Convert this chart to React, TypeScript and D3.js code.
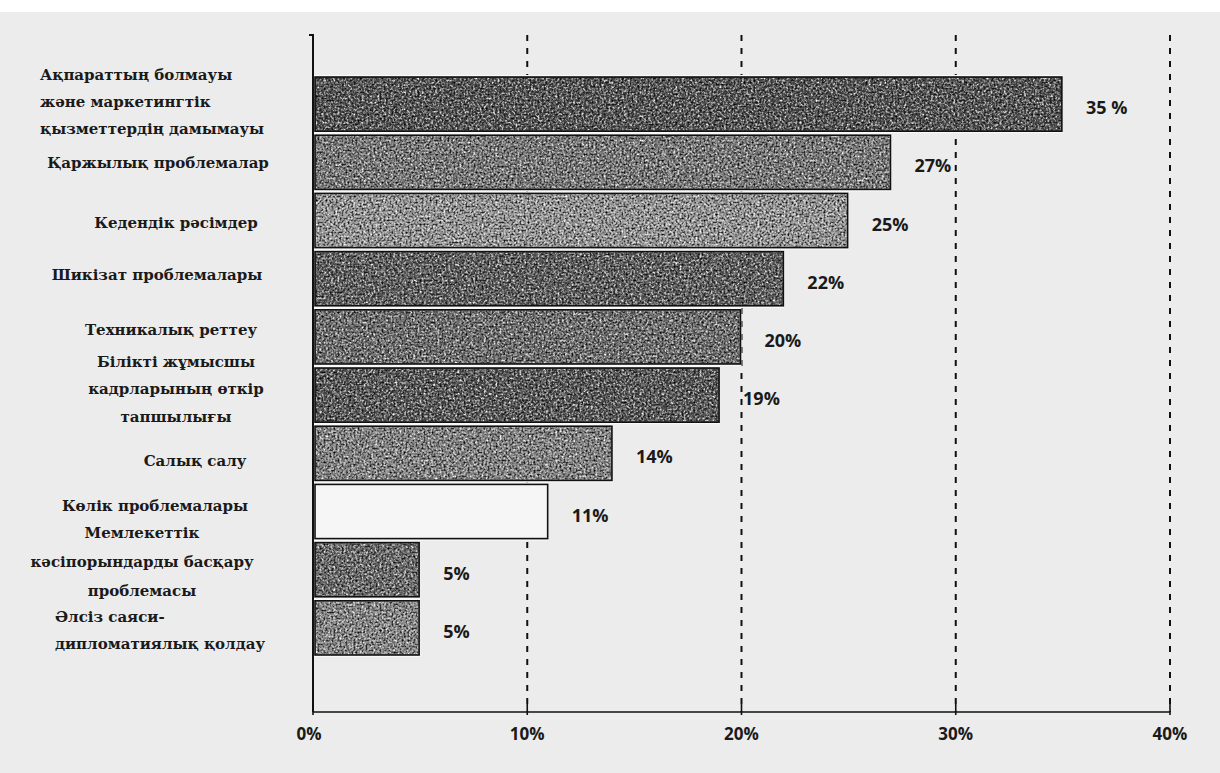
import React from "react";
import * as d3 from "d3";

const categories = [
  "Ақпараттың болмауы\nжәне маркетингтік\nқызметтердің дамымауы",
  "Қаржылық проблемалар",
  "Кедендік рәсімдер",
  "Шикізат проблемалары",
  "Техникалық реттеу",
  "Білікті жұмысшы\nкадрларының өткір\nтапшылығы",
  "Салық салу",
  "Көлік проблемалары",
  "Мемлекеттік\nкәсіпорындарды басқару\nпроблемасы",
  "Әлсіз саяси-\nдипломатиялық қолдау",
];
const values = [35, 27, 25, 22, 20, 19, 14, 11, 5, 5];
const valueLabels = ["35 %", "27%", "25%", "22%", "20%", "19%", "14%", "11%", "5%", "5%"];
const tickValues = [0, 10, 20, 30, 40];

// styling
const barShades = ["#4c4c4c", "#7c7c7c", "#a2a2a2", "#5a5a5a", "#6e6e6e", "#525252", "#8a8a8a", "#f6f6f6", "#6a6a6a", "#8e8e8e"];
const labelLayout = [
  { anchor: "start", x: 40, dy: -2, lh: 27 },
  { anchor: "middle", x: 158, dy: 1, lh: 28 },
  { anchor: "middle", x: 176, dy: 2, lh: 28 },
  { anchor: "middle", x: 157, dy: -4, lh: 28 },
  { anchor: "middle", x: 171, dy: -7, lh: 28 },
  { anchor: "middle", x: 176, dy: -6, lh: 27.5 },
  { anchor: "middle", x: 195, dy: 8, lh: 28 },
  { anchor: "middle", x: 155, dy: -6, lh: 28 },
  { anchor: "middle", x: 142, dy: -8, lh: 29 },
  { anchor: "start", x: 55, dy: 3, lh: 27 },
];

const W = 1220;
const H = 773;

export default function App() {
  const x = d3.scaleLinear().domain([0, 40]).range([313, 1170]);
  const y = d3.scaleBand<string>().domain(categories).range([75, 657]).padding(0);
  const axisY = 712;
  const topY = 35;
  const labelFont = "'DejaVu Serif', 'Liberation Serif', serif";
  const numFont = "'Open Sans', 'DejaVu Sans', sans-serif";

  return (
    <svg width={W} height={H} style={{ position: "fixed", left: 0, top: 0, background: "#ececec" }}>
      <defs>
        <filter id="speck" x="0" y="0" width="100%" height="100%">
          <feTurbulence type="fractalNoise" baseFrequency="0.45" numOctaves="2" seed="4" result="t" />
          <feColorMatrix in="t" type="matrix" values="0 0 0 0 1  0 0 0 0 1  0 0 0 0 1  2.4 0 0 0 -1.0" result="w" />
          <feComposite in="w" in2="SourceGraphic" operator="in" />
        </filter>
        <filter id="speckDark" x="0" y="0" width="100%" height="100%">
          <feTurbulence type="fractalNoise" baseFrequency="0.5" numOctaves="2" seed="9" result="t" />
          <feColorMatrix in="t" type="matrix" values="0 0 0 0 0  0 0 0 0 0  0 0 0 0 0  0 2.4 0 0 -1.0" result="w" />
          <feComposite in="w" in2="SourceGraphic" operator="in" />
        </filter>
      </defs>
      <rect x={0} y={0} width={W} height={H} fill="#ececec" />
      <rect x={0} y={0} width={W} height={12} fill="#ffffff" />

      {/* dashed gridlines */}
      {tickValues.filter((t) => t > 0).map((t) => (
        <line key={"g" + t} x1={x(t)} x2={x(t)} y1={topY} y2={axisY} stroke="#111" strokeWidth={2} strokeDasharray="6,7" />
      ))}

      {/* bars */}
      {categories.map((c, i) => {
        const y0 = y(c)!;
        const h = y.bandwidth();
        const w = x(values[i]) - x(0);
        return (
          <g key={"b" + i}>
            <rect x={x(0)} y={y0} width={w} height={h} fill="#fafafa" />
            <rect x={x(0) + 2} y={y0 + 2} width={w - 3} height={h - 4} fill={barShades[i]} stroke="#111" strokeWidth={1.6} />
            {i !== 7 && (
              <>
                <rect x={x(0) + 3} y={y0 + 3} width={w - 5} height={h - 6} fill="#fff" filter="url(#speck)" />
                <rect x={x(0) + 3} y={y0 + 3} width={w - 5} height={h - 6} fill="#000" filter="url(#speckDark)" />
              </>
            )}
          </g>
        );
      })}

      {/* value labels */}
      {categories.map((c, i) => (
        <text
          key={"v" + i}
          x={x(values[i]) + 23}
          y={y(c)! + y.bandwidth() / 2 + 10}
          fontFamily={numFont}
          fontWeight={700}
          fontSize={18}
          fill="#1a1a1a"
        >
          {valueLabels[i]}
        </text>
      ))}

      {/* category labels */}
      {categories.map((c, i) => {
        const lines = c.split("\n");
        const L = labelLayout[i];
        const cy = y(c)! + y.bandwidth() / 2 + L.dy;
        const start = cy - ((lines.length - 1) * L.lh) / 2;
        return (
          <text
            key={"c" + i}
            fontFamily={labelFont}
            fontWeight={700}
            fontSize={15}
            fill="#1a1a1a"
            textAnchor={L.anchor as any}
          >
            {lines.map((l, j) => (
              <tspan key={j} x={L.x} y={start + j * L.lh + 5}>
                {l}
              </tspan>
            ))}
          </text>
        );
      })}

      {/* axes */}
      <line x1={x(0)} x2={x(0)} y1={topY - 1} y2={axisY} stroke="#111" strokeWidth={2} />
      <line x1={x(0) - 4} x2={x(0)} y1={topY} y2={topY} stroke="#111" strokeWidth={2} />
      <line x1={x(0)} x2={x(40)} y1={axisY} y2={axisY} stroke="#111" strokeWidth={1.6} />
      {tickValues.map((t) => (
        <g key={"t" + t}>
          <line x1={x(t)} x2={x(t)} y1={axisY - 8} y2={axisY + 3} stroke="#111" strokeWidth={1.6} />
          <text x={x(t) - (t === 0 ? 4 : 0)} y={axisY + 28} textAnchor="middle" fontFamily={numFont} fontWeight={700} fontSize={17} fill="#1a1a1a">
            {t + "%"}
          </text>
        </g>
      ))}
    </svg>
  );
}
